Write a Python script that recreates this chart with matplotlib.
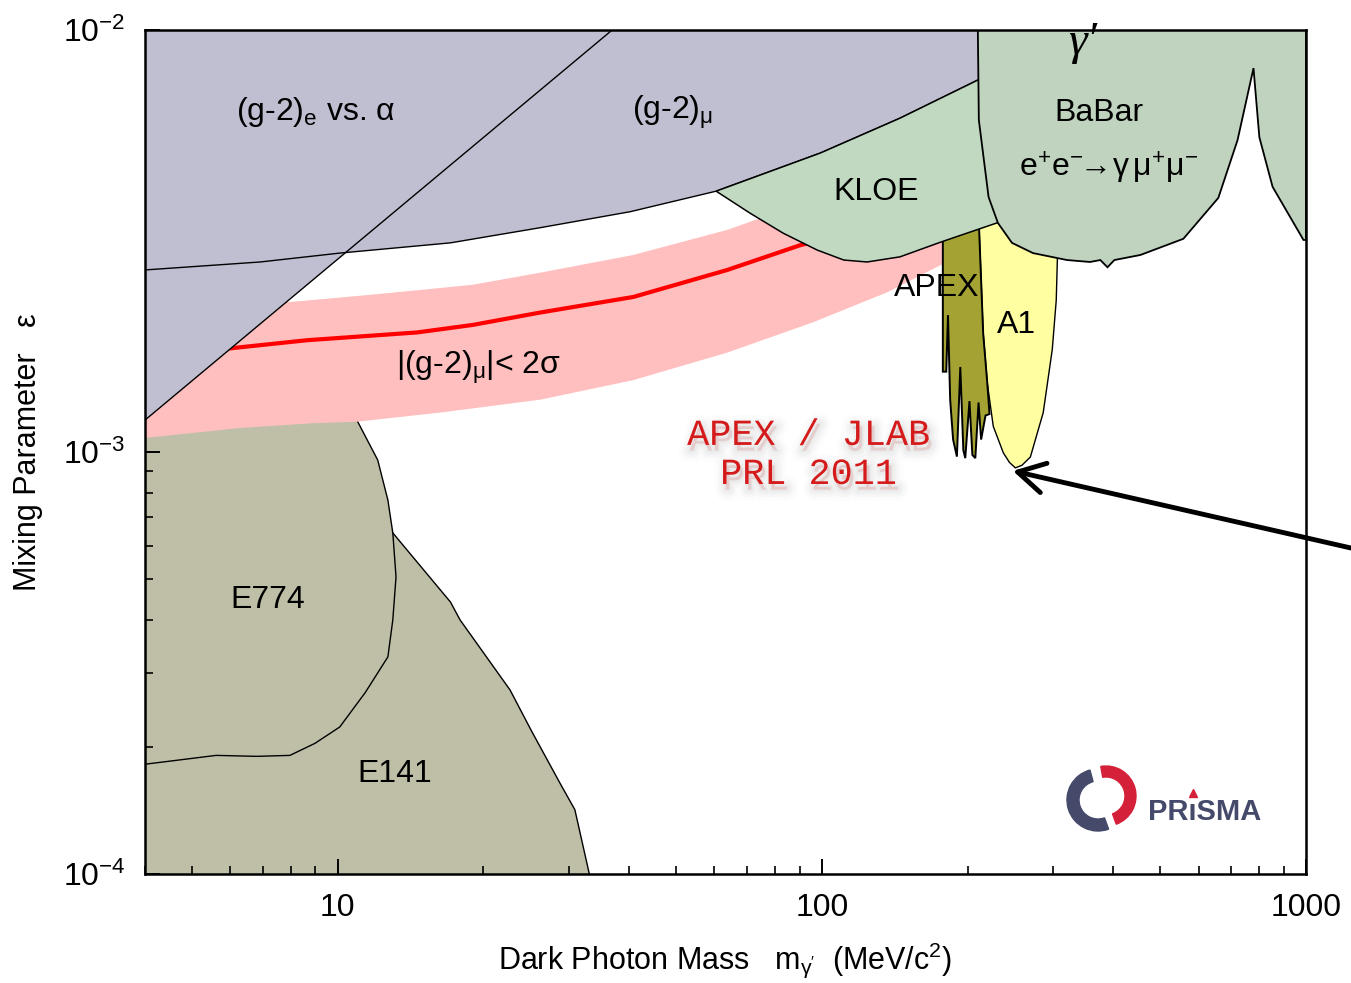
import matplotlib
matplotlib.use("Agg")
import matplotlib.pyplot as plt
import matplotlib.patheffects as pe
from matplotlib.patches import Wedge
from matplotlib.ticker import NullFormatter
import numpy as np

plt.rcParams['font.family'] = ['Liberation Sans', 'DejaVu Sans']
plt.rcParams['mathtext.fontset'] = 'custom'
plt.rcParams['mathtext.rm'] = 'Liberation Sans'
plt.rcParams['mathtext.it'] = 'Liberation Sans:italic'
plt.rcParams['mathtext.bf'] = 'Liberation Sans:bold'

# dark photon mass (MeV) vs mixing parameter epsilon, exclusion contours

# (g-2)_e vs alpha bound (straight line in log-log)
gm2e_m = [4.0, 36.9]
gm2e_eps = [1.19e-3, 1.0e-2]

# (g-2)_mu bound
gm2mu_m = [4.0, 6.92, 10.1, 17.1, 26.2, 40.2, 60.5, 99.3, 145, 210, 234]
gm2mu_eps = [2.70e-3, 2.82e-3, 2.96e-3, 3.13e-3, 3.40e-3, 3.71e-3, 4.15e-3,
             5.11e-3, 6.18e-3, 7.61e-3, 8.0e-3]

# |(g-2)_mu| < 2 sigma band and central value
band_top_m = [4.0, 8.09, 11.8, 19.0, 26.2, 40.8, 63.8, 74.6, 114.5, 185]
band_top_eps = [2.17e-3, 2.27e-3, 2.36e-3, 2.49e-3, 2.66e-3, 2.93e-3, 3.36e-3,
                3.58e-3, 4.18e-3, 4.8e-3]
band_low_m = [4.0, 6.29, 8.90, 11.0, 16.3, 26.2, 40.8, 63.8, 96.0, 136.5, 175.7, 185]
band_low_eps = [1.08e-3, 1.14e-3, 1.17e-3, 1.18e-3, 1.24e-3, 1.33e-3, 1.48e-3,
                1.72e-3, 2.03e-3, 2.39e-3, 2.77e-3, 2.85e-3]
central_m = [5.99, 8.64, 14.6, 19.0, 26.2, 40.8, 63.8, 90.2, 114.5]
central_eps = [1.76e-3, 1.84e-3, 1.92e-3, 2.00e-3, 2.14e-3, 2.33e-3, 2.70e-3,
               3.09e-3, 3.32e-3]

# KLOE lower edge (upper edge is the (g-2)_mu curve)
kloe_m = [60.5, 71.1, 83.2, 97.8, 111, 124, 145, 177, 230, 250, 250]
kloe_eps = [4.15e-3, 3.68e-3, 3.30e-3, 3.01e-3, 2.85e-3, 2.82e-3, 2.90e-3,
            3.15e-3, 3.49e-3, 3.56e-3, 9.0e-3]

# BaBar e+e- -> gamma mu+ mu-
babar_m = [210, 211, 221, 231, 247, 273, 321, 358, 376, 389, 402, 455, 558,
           659, 722, 779, 801, 853, 988, 1000, 1000]
babar_eps = [1.0e-2, 6.12e-3, 4.02e-3, 3.49e-3, 3.13e-3, 2.96e-3, 2.85e-3,
             2.82e-3, 2.85e-3, 2.74e-3, 2.85e-3, 2.93e-3, 3.20e-3, 4.00e-3,
             5.48e-3, 8.12e-3, 5.57e-3, 4.25e-3, 3.18e-3, 3.18e-3, 1.0e-2]

# APEX test run
apex_m = [177.8, 177.8, 180.7, 182.2, 184.1, 186.7, 190.1, 193.2, 196.0, 197.8,
          201.8, 204.6, 207.5, 210.7, 213.3, 217.8, 222.0, 219.6, 215.4, 211.3,
          211.3, 177.8]
apex_eps = [3.4e-3, 1.55e-3, 1.55e-3, 2.11e-3, 1.33e-3, 1.07e-3, 9.75e-4,
            1.59e-3, 1.01e-3, 9.67e-4, 1.32e-3, 9.84e-4, 9.67e-4, 1.31e-3,
            1.07e-3, 1.22e-3, 1.23e-3, 1.46e-3, 1.91e-3, 3.36e-3, 3.6e-3, 3.4e-3]

# A1 (MAMI)
a1_m = [211.3, 215.4, 219.6, 226.0, 237.1, 244.0, 251.0, 259.0, 269.6, 286.6,
        299.2, 304.9, 306.5, 307, 231, 211.3]
a1_eps = [3.36e-3, 1.91e-3, 1.46e-3, 1.15e-3, 9.95e-4, 9.45e-4, 9.17e-4,
          9.3e-4, 9.73e-4, 1.24e-3, 1.75e-3, 2.29e-3, 2.85e-3, 3.3e-3, 4.0e-3,
          3.6e-3]

# beam dump experiments
e774_m = [4.0, 5.61, 6.81, 7.97, 8.98, 10.1, 11.4, 12.7, 13.0, 13.2, 13.0, 12.7,
          12.1, 11.0]
e774_eps = [1.82e-4, 1.91e-4, 1.90e-4, 1.91e-4, 2.04e-4, 2.23e-4, 2.69e-4,
            3.27e-4, 4.00e-4, 5.06e-4, 6.43e-4, 7.69e-4, 9.57e-4, 1.18e-3]
e141_m = [13.0, 17.1, 17.9, 22.7, 25.1, 28.8, 30.9, 33.1]
e141_eps = [6.43e-4, 4.41e-4, 4.00e-4, 2.73e-4, 2.19e-4, 1.64e-4, 1.42e-4, 1.0e-4]
dump_top = 1.25e-3

purple = '#C0BFD2'
kloe_col = '#C0D9C0'
babar_col = '#BFD3BF'
dump_col = '#BFBFA7'
band_col = '#FFBFBF'
apex_col = '#A3A232'
a1_col = '#FFFFA2'

fig = plt.figure(figsize=(13.51, 9.83), dpi=100)
ax = fig.add_axes([0.1073, 0.1109, 0.8594, 0.8586])
ax.set_xscale('log')
ax.set_yscale('log')
ax.set_xlim(4, 1000)
ax.set_ylim(1e-4, 1e-2)

# E774 + E141 shaded area
dump_x = [4.0, 4.0, e774_m[-1]] + e774_m[::-1][:4] + e141_m[1:] + [4.0]
dump_y = [1e-4, dump_top, dump_top] + e774_eps[::-1][:4] + e141_eps[1:] + [1e-4]
ax.fill(dump_x, dump_y, color=dump_col, lw=0, zorder=1)
ax.plot(e774_m, e774_eps, color='k', lw=1.0, zorder=1.5)
ax.plot(e141_m, e141_eps, color='k', lw=1.0, zorder=1.5)

# (g-2)_mu favoured band
ax.fill(band_low_m + band_top_m[::-1], band_low_eps + band_top_eps[::-1],
        color=band_col, lw=0, zorder=2)
ax.plot(central_m, central_eps, color='#FF0000', lw=3.0, zorder=2.5)

# (g-2) exclusions
ax.fill_between(gm2e_m, gm2e_eps, 1.0, color=purple, lw=0, zorder=3)
ax.fill_between(gm2mu_m, gm2mu_eps, 1.0, color=purple, lw=0, zorder=3)
ax.plot(gm2e_m, gm2e_eps, color='k', lw=1.0, zorder=3.5)
ax.plot(gm2mu_m, gm2mu_eps, color='k', lw=1.0, zorder=3.5)

# APEX and A1
ax.fill(a1_m, a1_eps, facecolor=a1_col, edgecolor='k', lw=1.0, zorder=4)
ax.fill(apex_m, apex_eps, facecolor=apex_col, edgecolor='k', lw=1.4, zorder=4.2)

# KLOE
k_up_m = [m for m in gm2mu_m if m >= kloe_m[0]][::-1]
k_up_eps = [e for m, e in zip(gm2mu_m, gm2mu_eps) if m >= kloe_m[0]][::-1]
ax.fill(kloe_m + k_up_m, kloe_eps + k_up_eps, facecolor=kloe_col,
        edgecolor='k', lw=1.1, zorder=5)

# BaBar
ax.fill(babar_m, babar_eps, facecolor=babar_col, edgecolor='k', lw=1.3, zorder=6)

# region labels
fs = 23
ax.text(9.0, 6.39e-3, r'(g-2)$_\mathrm{e}$ vs. α', fontsize=fs, ha='center', va='center', zorder=10)
ax.text(49.1, 6.39e-3, r'(g-2)$_\mathrm{\mu}$', fontsize=fs, ha='center', va='center', zorder=10)
ax.text(129.5, 4.13e-3, 'KLOE', fontsize=fs, ha='center', va='center', zorder=10)
ax.text(374, 6.35e-3, 'BaBar', fontsize=fs, ha='center', va='center', zorder=10)
ax.text(391, 4.71e-3, r'$\mathrm{e^{+}e^{-}\!\!\rightarrow\!\gamma\,\mu^{+}\mu^{-}}$',
        fontsize=fs, ha='center', va='center', zorder=10)
ax.text(173, 2.45e-3, 'APEX', fontsize=fs, ha='center', va='center', zorder=10)
ax.text(252, 2.0e-3, 'A1', fontsize=fs, ha='center', va='center', zorder=10)
ax.text(19.5, 1.59e-3, r'|(g-2)$_\mathrm{\mu}$|< 2σ', fontsize=fs, ha='center', va='center', zorder=10)
ax.text(7.18, 4.46e-4, 'E774', fontsize=fs, ha='center', va='center', zorder=10)
ax.text(13.1, 1.73e-4, 'E141', fontsize=fs, ha='center', va='center', zorder=10)
ax.text(0.808, 0.985, 'γ′', transform=ax.transAxes, fontsize=34,
        family=['Liberation Serif', 'DejaVu Serif'], style='italic',
        ha='center', va='center', clip_on=False, zorder=10)

# highlighted result
glow = [pe.Stroke(linewidth=w, foreground='#808080', alpha=a, offset=(2, -4))
        for w, a in [(16, 0.025), (11, 0.035), (7, 0.045), (3, 0.05)]] + [pe.Normal()]
ax.text(93.7, 9.84e-4, 'APEX / JLAB\nPRL 2011', fontsize=26.5, color='#D41A1A',
        family=['Liberation Mono', 'DejaVu Sans Mono'], ha='center', va='center',
        linespacing=1.15, zorder=10, path_effects=glow)

ax.annotate('', xy=(248, 9.02e-4), xytext=(1.0, 0.4425), textcoords='figure fraction',
            arrowprops=dict(arrowstyle='->,head_length=0.8,head_width=0.45',
                            mutation_scale=24, lw=3.5, color='k',
                            shrinkA=0, shrinkB=0),
            annotation_clip=False, zorder=11)

# axes styling
ax.set_xticks([10, 100, 1000])
ax.set_xticklabels(['10', '100', '1000'])
ax.xaxis.set_minor_formatter(NullFormatter())
ax.yaxis.set_minor_formatter(NullFormatter())
ax.tick_params(which='both', direction='in', top=False, right=False, labelsize=23, pad=14)
ax.tick_params(which='major', length=10.8, width=1.4)
ax.tick_params(which='minor', length=5.8, width=1.2)
for s in ax.spines.values():
    s.set_linewidth(1.8)
    s.set_zorder(12)

ax.set_xlabel(r"Dark Photon Mass   m$_{\mathrm{\gamma}'}$  (MeV/c$^2$)", fontsize=22, labelpad=12)
ax.set_ylabel('Mixing Parameter   ε', fontsize=22, labelpad=14)

# PRISMA logo
lax = fig.add_axes([1060 / 1351, (983 - 840) / 983, 220 / 1351, 80 / 983])
lax.set_xlim(0, 220)
lax.set_ylim(0, 80)
lax.axis('off')
lax.add_patch(Wedge((38, 40), 31, 105, 290, width=12, color='#454A6B'))
lax.add_patch(Wedge((46, 44), 30, -70, 100, width=11, color='#D42038'))
lax.text(88, 20, 'PRıSMA', fontsize=21, color='#454A6B', weight='bold', va='baseline')
lax.plot([133], [47], marker='^', ms=6, color='#D42038')

fig.savefig('out.png', dpi=100)
